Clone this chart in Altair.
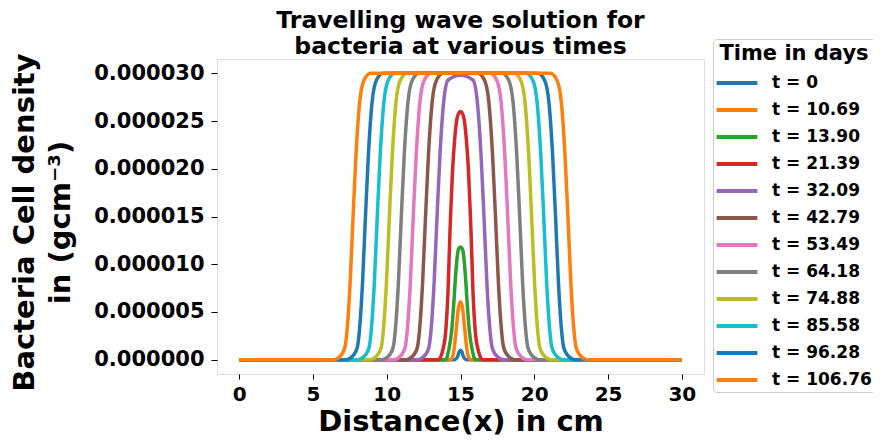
import altair as alt
import pandas as pd

FONT = "DejaVu Sans"

labels = ["t = 0", "t = 10.69", "t = 13.90", "t = 21.39", "t = 32.09", "t = 42.79",
          "t = 53.49", "t = 64.18", "t = 74.88", "t = 85.58", "t = 96.28", "t = 106.76"]
colors = ["#1f77b4", "#ff7f0e", "#2ca02c", "#d62728", "#9467bd", "#8c564b",
          "#e377c2", "#7f7f7f", "#bcbd22", "#17becf", "#1f77b4", "#ff7f0e"]

# plateau edge heights (left edge going up, mirrored on the right)
edge_up = [0, 5e-7, 1.3e-6, 3.2e-6, 8e-6, 1.5e-5, 2.15e-5, 2.7e-5, 2.93e-5, 3.0e-5]
edge_down = [3.0e-5, 2.93e-5, 2.7e-5, 2.15e-5, 1.5e-5, 8e-6, 3.2e-6, 1.3e-6, 5e-7, 0]

x_t0 = [0, 14.6, 14.8, 14.9, 15.0, 15.1, 15.2, 15.4, 30]
y_t0 = [0, 0, 3e-7, 8e-7, 1e-6, 8e-7, 3e-7, 0, 0]

x_t1069 = [0, 14.3, 14.5, 14.7, 14.85, 15.0, 15.15, 15.3, 15.5, 15.7, 30]
y_t1069 = [0, 0, 5e-7, 3e-6, 5.3e-6, 6.07e-6, 5.3e-6, 3e-6, 5e-7, 0, 0]

x_t1390 = [0, 14.0, 14.2, 14.4, 14.55, 14.7, 14.85, 15.0, 15.15, 15.3, 15.45, 15.6, 15.8, 16.0, 30]
y_t1390 = [0, 0, 1e-6, 3e-6, 6e-6, 9.5e-6, 1.15e-5, 1.18e-5, 1.15e-5, 9.5e-6, 6e-6, 3e-6, 1e-6, 0, 0]

x_t2139 = [0, 13.5, 13.8, 14.0, 14.15, 14.3, 14.45, 14.6, 14.8, 15.0, 15.2, 15.4, 15.55, 15.7, 15.85, 16.0, 16.2, 16.5, 30]
y_t2139 = [0, 0, 1e-6, 3e-6, 7e-6, 1.4e-5, 1.95e-5, 2.3e-5, 2.55e-5, 2.6e-5, 2.55e-5, 2.3e-5, 1.95e-5, 1.4e-5, 7e-6, 3e-6, 1e-6, 0, 0]

x_t3209 = [0, 12.11, 12.61, 12.86, 13.01, 13.21, 13.41, 13.61, 13.86, 14.16, 15.0,
           15.84, 16.14, 16.39, 16.59, 16.79, 16.99, 17.14, 17.39, 17.89, 30]
y_t3209 = [0, 0, 5e-7, 1.3e-6, 3.2e-6, 8e-6, 1.5e-5, 2.15e-5, 2.7e-5, 2.93e-5, 2.98e-5,
           2.93e-5, 2.7e-5, 2.15e-5, 1.5e-5, 8e-6, 3.2e-6, 1.3e-6, 5e-7, 0, 0]

x_t4279 = [0, 11.33, 11.83, 12.08, 12.23, 12.43, 12.63, 12.83, 13.08, 13.38, 13.83,
           16.17, 16.62, 16.92, 17.17, 17.37, 17.57, 17.77, 17.92, 18.17, 18.67, 30]
x_t5349 = [0, 10.50, 11.00, 11.25, 11.40, 11.60, 11.80, 12.00, 12.25, 12.55, 13.00,
           17.00, 17.45, 17.75, 18.00, 18.20, 18.40, 18.60, 18.75, 19.00, 19.50, 30]
x_t6418 = [0, 9.69, 10.19, 10.44, 10.59, 10.79, 10.99, 11.19, 11.44, 11.74, 12.19,
           17.81, 18.26, 18.56, 18.81, 19.01, 19.21, 19.41, 19.56, 19.81, 20.31, 30]
x_t7488 = [0, 8.88, 9.38, 9.63, 9.78, 9.98, 10.18, 10.38, 10.63, 10.93, 11.38,
           18.62, 19.07, 19.37, 19.62, 19.82, 20.02, 20.22, 20.37, 20.62, 21.12, 30]
x_t8558 = [0, 8.06, 8.56, 8.81, 8.96, 9.16, 9.36, 9.56, 9.81, 10.11, 10.56,
           19.44, 19.89, 20.19, 20.44, 20.64, 20.84, 21.04, 21.19, 21.44, 21.94, 30]
x_t9628 = [0, 7.26, 7.76, 8.01, 8.16, 8.36, 8.56, 8.76, 9.01, 9.31, 9.76,
           20.24, 20.69, 20.99, 21.24, 21.44, 21.64, 21.84, 21.99, 22.24, 22.74, 30]
x_t10676 = [0, 6.42, 6.92, 7.17, 7.32, 7.52, 7.72, 7.92, 8.17, 8.47, 8.92,
            21.08, 21.53, 21.83, 22.08, 22.28, 22.48, 22.68, 22.83, 23.08, 23.58, 30]
y_plateau = [0] + edge_up + edge_down + [0]

series = [
    (x_t0, y_t0), (x_t1069, y_t1069), (x_t1390, y_t1390), (x_t2139, y_t2139),
    (x_t3209, y_t3209), (x_t4279, y_plateau), (x_t5349, y_plateau), (x_t6418, y_plateau),
    (x_t7488, y_plateau), (x_t8558, y_plateau), (x_t9628, y_plateau), (x_t10676, y_plateau),
]

rows = []
for k, (lab, (xs, ys)) in enumerate(zip(labels, series)):
    for i, (xv, yv) in enumerate(zip(xs, ys)):
        rows.append({"label": lab, "k": k, "i": i, "x": xv, "y": yv})
df = pd.DataFrame(rows)

W, H = 487, 315

chart = alt.Chart(df).mark_line(strokeWidth=3.5, interpolate="monotone").encode(
    x=alt.X("x:Q",
            scale=alt.Scale(domain=[-1.5, 31.5], nice=False, zero=False),
            axis=alt.Axis(values=[0, 5, 10, 15, 20, 25, 30], format="d",
                          title="Distance(x) in cm", titleFontSize=29, titleFont=FONT,
                          titleFontWeight="bold", titleColor="black",
                          titleX=W / 2, titleY=56, titleBaseline="alphabetic", titleAnchor="middle",
                          labelFontSize=20, labelFont=FONT, labelFontWeight="bold",
                          labelColor="black", tickSize=5, tickColor="black", labelPadding=5,
                          domain=False, grid=False)),
    y=alt.Y("y:Q",
            scale=alt.Scale(domain=[-1.5e-6, 3.15e-5], nice=False, zero=False),
            axis=alt.Axis(values=[0, 5e-6, 1e-5, 1.5e-5, 2e-5, 2.5e-5, 3e-5], format=".6f",
                          title=["Bacteria Cell density", "in (gcm⁻³)"], titleFontSize=29,
                          titleFont=FONT, titleFontWeight="bold", titleColor="black",
                          titleAngle=270, titleX=-184, titleY=163, titleBaseline="alphabetic",
                          titleAlign="center", titleLineHeight=36,
                          labelFontSize=21, labelFont=FONT, labelFontWeight="bold",
                          labelColor="black", tickSize=6, tickColor="black", labelPadding=7,
                          domain=False, grid=False)),
    color=alt.Color("label:N",
                    scale=alt.Scale(domain=labels, range=colors),
                    legend=alt.Legend(title="Time in days", orient="none",
                                      legendX=496, legendY=-20,
                                      titleFontSize=21, titleFont=FONT, titleFontWeight="bold",
                                      titleColor="black", titleAnchor="middle", titlePadding=5,
                                      labelFontSize=17, labelFont=FONT, labelFontWeight="bold",
                                      labelColor="black", labelOffset=21,
                                      symbolType="M-1.7,0H1.7", symbolSize=576,
                                      symbolStrokeWidth=4, symbolOffset=6,
                                      rowPadding=5, padding=4,
                                      strokeColor="#cccccc", fillColor="white",
                                      cornerRadius=3)),
    detail="k:O",
    order="i:Q",
).properties(
    width=W, height=H,
    title=alt.TitleParams(text=["Travelling wave solution for", " bacteria at various times"],
                          fontSize=23.5, font=FONT, fontWeight="bold", color="black",
                          anchor="middle", frame="group", offset=-20, lineHeight=26),
    autosize=alt.AutoSizeParams(type="none"),
    padding={"left": 209, "top": 51, "right": 169, "bottom": 62},
).configure_view(stroke="black", strokeWidth=1.2).configure(background="white")

chart.save("out.html", embed_options={"renderer": "svg", "actions": False})
